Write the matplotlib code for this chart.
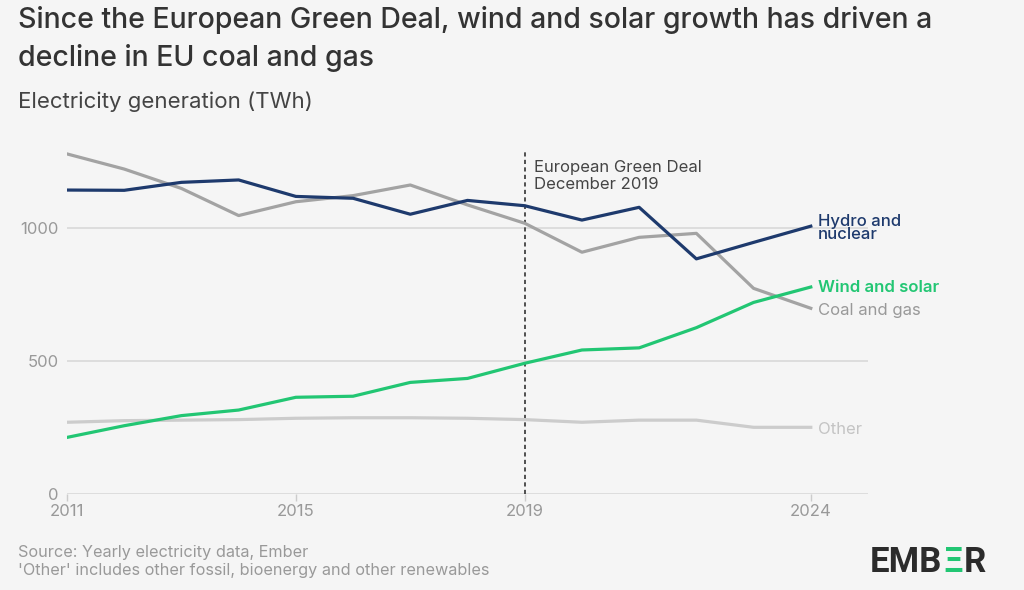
import matplotlib
matplotlib.use("Agg")
import matplotlib.pyplot as plt

plt.rcParams['font.family'] = ['Inter', 'DejaVu Sans']

years = list(range(2011, 2025))
coal_gas = [1280, 1223, 1150, 1048, 1100, 1123, 1163, 1088, 1019, 910, 966, 981, 774, 699]
hydro_nuclear = [1144, 1143, 1173, 1182, 1120, 1113, 1053, 1105, 1085, 1031, 1079, 885, 947, 1008]
wind_solar = [213, 257, 295, 316, 364, 368, 420, 435, 492, 542, 550, 626, 721, 779]
other = [270, 276, 278, 280, 285, 287, 287, 285, 280, 270, 278, 278, 251, 251]

x_ticks = [2011, 2015, 2019, 2024]
y_ticks = [0, 500, 1000]

bg = '#f5f5f5'
c_navy = '#1e3a6d'
c_green = '#22c673'
c_coal = '#a3a3a3'
c_other = '#cccccc'

W, H = 1024, 590
fig = plt.figure(figsize=(10.24, 5.9), dpi=100, facecolor=bg)
ax = fig.add_axes([67 / W, 1 - 494 / H, (868 - 67) / W, (494 - 148.6) / H])
ax.set_facecolor(bg)

ax.set_xlim(2011, 2025)
ax.set_ylim(0, 1300)

for y in y_ticks:
    ax.axhline(y, color='#d9d9d9', lw=1.2, zorder=0)

ax.axvline(2019, color='#333333', lw=1.2, ls=(0, (2.5, 2)), zorder=1)

ax.plot(years, other, color=c_other, lw=2.3, zorder=2)
ax.plot(years, coal_gas, color=c_coal, lw=2.3, zorder=3)
ax.plot(years, wind_solar, color=c_green, lw=2.3, zorder=4)
ax.plot(years, hydro_nuclear, color=c_navy, lw=2.3, zorder=5)

for s in ax.spines.values():
    s.set_visible(False)
ax.set_xticks(x_ticks)
ax.set_xticklabels([str(v) for v in x_ticks])
ax.set_yticks(y_ticks)
ax.set_yticklabels([str(v) for v in y_ticks])
ax.tick_params(axis='x', length=5, width=1, color='#cccccc', labelcolor='#999999',
               labelsize=12, pad=2)
ax.tick_params(axis='y', length=0, labelcolor='#999999', labelsize=12, pad=6)

# end-of-line labels
ax.annotate('Hydro and\nnuclear', (2024, hydro_nuclear[-1]), xytext=(5, -1.5),
            textcoords='offset points', color=c_navy, fontsize=12, fontweight='medium',
            va='center', ha='left', linespacing=0.85)
ax.annotate('Wind and solar', (2024, wind_solar[-1]), xytext=(5, 0),
            textcoords='offset points', color=c_green, fontsize=12, fontweight='semibold',
            va='center', ha='left')
ax.annotate('Coal and gas', (2024, coal_gas[-1]), xytext=(5, -1.5),
            textcoords='offset points', color='#999999', fontsize=12,
            va='center', ha='left')
ax.annotate('Other', (2024, other[-1]), xytext=(5, -1.5),
            textcoords='offset points', color='#c4c4c4', fontsize=12,
            va='center', ha='left')

ax.annotate('European Green Deal\nDecember 2019', (2019, 1300), xytext=(7, -8),
            textcoords='offset points', color='#444444',
            fontsize=12, va='top', ha='left', linespacing=1.2)

# titles
fig.text(18 / W, 1 - 20 / H, 'Since the European Green Deal, wind and solar growth has driven a',
         fontsize=20.5, fontweight='medium', color='#333333', va='center', ha='left')
fig.text(18 / W, 1 - 58 / H, 'decline in EU coal and gas',
         fontsize=20.5, fontweight='medium', color='#333333', va='center', ha='left')
fig.text(18 / W, 1 - 102 / H, 'Electricity generation (TWh)', fontsize=16,
         color='#444444', va='center', ha='left')

# footer
fig.text(18 / W, 1 - 552 / H, 'Source: Yearly electricity data, Ember', fontsize=11.7,
         color='#999999', va='center', ha='left')
fig.text(18 / W, 1 - 570 / H, "'Other' includes other fossil, bioenergy and other renewables",
         fontsize=11.7, color='#999999', va='center', ha='left')

# logo: place pieces one after another
renderer = fig.canvas.get_renderer()
logo_y = 1 - 562 / H
x = 870
for piece, col in [('EMB', '#2b2b2b'), ('Ξ', c_green), ('R', '#2b2b2b')]:
    t = fig.text(x / W, logo_y, piece, fontsize=25, fontweight='bold', color=col,
                 va='center', ha='left', family=['Roboto', 'DejaVu Sans'])
    x = t.get_window_extent(renderer).x1 + 1

fig.savefig('out.png', dpi=100, facecolor=bg)
